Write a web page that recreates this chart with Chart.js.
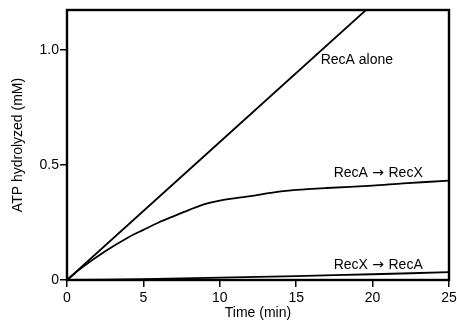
<!DOCTYPE html>
<html><head><meta charset="utf-8">
<script src="https://cdn.jsdelivr.net/npm/chart.js@4/dist/chart.umd.min.js"></script>
<style>html,body{margin:0;padding:0;background:#fff}#wrap{width:457px;height:324px}</style>
</head><body><div id="wrap"><canvas id="c" width="457" height="324"></canvas></div>
<script>
const xTicks = [0, 5, 10, 15, 20, 25];
const yTicks = [0, 0.5, 1.0];
const recaAloneX = [0, 20];
const recaAloneY = [0, 1.2];
const recaRecxX = [0, 1, 2.5, 4, 5, 6, 7, 8, 9, 10, 12, 14, 15, 17, 20, 22, 25];
const recaRecxY = [0, 0.055, 0.125, 0.185, 0.218, 0.25, 0.278, 0.305, 0.33, 0.345, 0.365, 0.385, 0.392, 0.4, 0.41, 0.42, 0.432];
const recxRecaX = [0, 5, 10, 15, 20, 25];
const recxRecaY = [0, 0.004, 0.01, 0.017, 0.025, 0.034];
const labelFrom = ["RecA alone", "RecA", "RecX"];
const labelTo = ["", "RecX", "RecA"];
const labelX = [16.6, 17.45, 17.45];
const labelY = [0.957, 0.465, 0.065];

const pts = (xs, ys) => xs.map((x, i) => ({x, y: ys[i]}));
const font = "'Liberation Sans', Arial, Helvetica, sans-serif";

const boxPlugin = {
  id: 'box',
  afterDraw(chart) {
    const {ctx, chartArea: a, scales} = chart;
    ctx.save();
    ctx.strokeStyle = '#000';
    ctx.lineWidth = 2.4;
    ctx.strokeRect(a.left, a.top, a.right - a.left, a.bottom - a.top);
    ctx.fillStyle = '#000';
    ctx.textBaseline = 'middle';
    ctx.textAlign = 'left';
    labelFrom.forEach((t, i) => {
      let x = scales.x.getPixelForValue(labelX[i]);
      const y = scales.y.getPixelForValue(labelY[i]);
      ctx.font = "14px " + font;
      ctx.fillText(t, x, y);
      x += ctx.measureText(t).width;
      if (labelTo[i]) {
        ctx.font = "14px 'DejaVu Sans'";
        const arr = " \u2192 ";
        ctx.fillText(arr, x, y);
        x += ctx.measureText(arr).width;
        ctx.font = "14px " + font;
        ctx.fillText(labelTo[i], x, y);
      }
    });
    ctx.restore();
  }
};

const ds = (xs, ys) => ({data: pts(xs, ys), borderColor: '#000', borderWidth: 1.8, pointRadius: 0, tension: 0.3, fill: false});

new Chart(document.getElementById('c'), {
  type: 'line',
  data: {datasets: [ds(recaAloneX, recaAloneY), ds(recaRecxX, recaRecxY), ds(recxRecaX, recxRecaY)]},
  options: {
    responsive: false, animation: false,
    layout: {padding: {top: 10, right: 8, left: 0, bottom: 0}},
    plugins: {legend: {display: false}, tooltip: {enabled: false}},
    scales: {
      x: {
        type: 'linear', min: 0, max: 25,
        afterBuildTicks: s => { s.ticks = xTicks.map(v => ({value: v})); },
        afterFit: s => { s.height = 44; s.paddingRight = 0; s.paddingLeft = 0; },
        grid: {drawOnChartArea: false, drawTicks: true, tickLength: 7, color: '#000', lineWidth: 1.5},
        border: {display: true, color: '#000', width: 2},
        ticks: {color: '#000', font: {family: font, size: 14}, padding: 3, maxRotation: 0},
        title: {display: true, text: 'Time (min)', color: '#000', font: {family: font, size: 14}, padding: {top: 0, bottom: 2}}
      },
      y: {
        type: 'linear', min: 0, max: 1.174,
        afterBuildTicks: s => { s.ticks = yTicks.map(v => ({value: v})); },
        afterFit: s => { s.width = 67; s.paddingTop = 0; s.paddingBottom = 0; },
        grid: {drawOnChartArea: false, drawTicks: true, tickLength: 7, color: '#000', lineWidth: 1.5},
        border: {display: true, color: '#000', width: 2},
        ticks: {color: '#000', font: {family: font, size: 14}, padding: 1, callback: v => v === 0 ? '0' : v.toFixed(1)},
        title: {display: true, text: 'ATP hydrolyzed (mM)', color: '#000', font: {family: font, size: 14}, padding: {top: 10, bottom: 0}}
      }
    }
  },
  plugins: [boxPlugin]
});
</script></body></html>
